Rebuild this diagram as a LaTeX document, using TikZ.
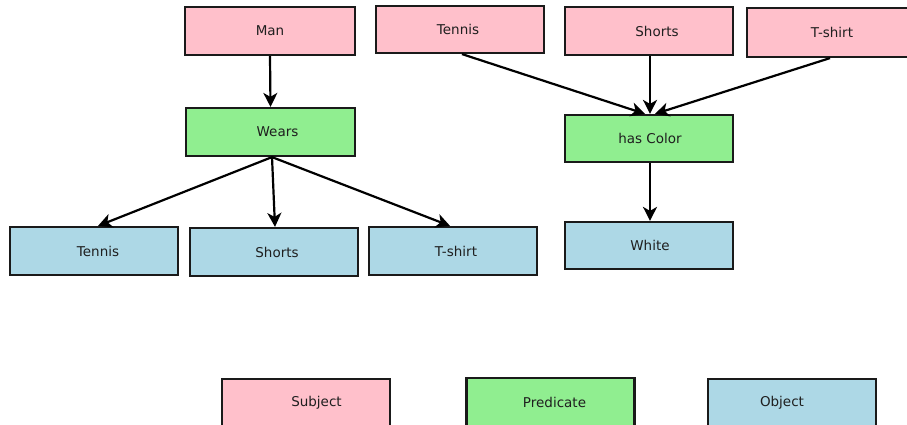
\documentclass[tikz,border=0pt]{standalone}
\usepackage{fontspec}
\setmainfont{DejaVu Sans}
\usetikzlibrary{arrows.meta}
\definecolor{subjc}{HTML}{FFC0CB}
\definecolor{predc}{HTML}{90EE90}
\definecolor{objc}{HTML}{ADD8E6}
\definecolor{edgec}{HTML}{1A1A1A}
\newcommand{\shR}[2]{\hspace*{#1pt}#2}
\newcommand{\shL}[2]{#2\hspace*{#1pt}}
\tikzset{
  box/.style={draw=edgec, line width=2.2pt, rectangle, minimum width=168pt, minimum height=48pt,
    inner sep=0pt, font=\fontsize{13.5}{16}\selectfont, text=black!88},
  subjbox/.style={box, fill=subjc},
  predbox/.style={box, fill=predc},
  objbox/.style={box, fill=objc},
  conn/.style={draw=black, line width=2.2pt, -{Stealth[length=14pt,width=14pt,inset=4pt]}}
}
\begin{document}
\begin{tikzpicture}[x=1pt,y=-1pt]
\useasboundingbox (0,0) rectangle (907,425);
% left tree
\node[subjbox, minimum width=170pt] (man) at (270,31) {Man};
\node[predbox, minimum width=169pt] (wears) at (270.5,132) {\shR{14}{Wears}};
\node[objbox] (tennisO) at (94,251) {\shR{8}{Tennis}};
\node[objbox] (shortsO) at (274,252) {\shR{6}{Shorts}};
\node[objbox] (tshirtO) at (453,251) {\shR{6}{T-shirt}};
% right tree
\node[subjbox, minimum height=47pt] (tennisS) at (460,29.5) {\shL{4}{Tennis}};
\node[subjbox] (shortsS) at (649,31) {\shR{16}{Shorts}};
\node[subjbox, minimum height=49pt] (tshirtS) at (831,32.5) {\shR{2}{T-shirt}};
\node[predbox, minimum height=47pt] (hascolor) at (649,138.5) {\shR{2}{has Color}};
\node[objbox, minimum height=47pt] (white) at (649,245.5) {\shR{2}{White}};
% legend
\node[subjbox] (legS) at (306,403) {\shR{21}{Subject}};
\node[predbox] (legP) at (550.5,402) {\shR{8}{Predicate}};
\node[objbox] (legO) at (792,403) {\shL{20}{Object}};
% connectors
\draw[conn] (man.south) -- (wears.north);
\draw[conn] ([xshift=1.5pt]wears.south) -- ([xshift=4pt]tennisO.north);
\draw[conn] ([xshift=1.5pt]wears.south) -- ([xshift=1pt]shortsO.north);
\draw[conn] ([xshift=1.5pt]wears.south) -- ([xshift=-3pt]tshirtO.north);
\draw[conn] ([xshift=2pt]tennisS.south) -- ([xshift=-4pt]hascolor.north);
\draw[conn] ([xshift=1pt]shortsS.south) -- ([xshift=1pt]hascolor.north);
\draw[conn] ([xshift=-1pt]tshirtS.south) -- ([xshift=6pt]hascolor.north);
\draw[conn] ([xshift=1pt]hascolor.south) -- ([xshift=1pt]white.north);
\end{tikzpicture}
\end{document}
